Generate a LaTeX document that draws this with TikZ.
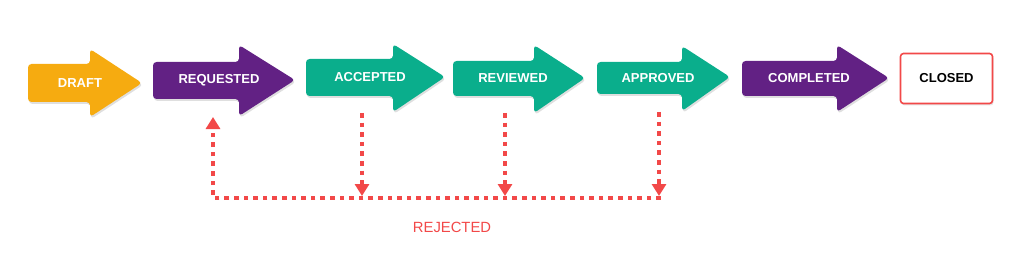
\documentclass[tikz,border=0pt]{standalone}
\usepackage{fontspec}
\setmainfont{Liberation Sans}
\usetikzlibrary{arrows.meta,shadows}
\definecolor{cOrange}{RGB}{246,171,16}
\definecolor{cPurple}{RGB}{98,33,132}
\definecolor{cTeal}{RGB}{10,174,140}
\definecolor{cRed}{RGB}{242,72,72}
\tikzset{
  bigarrow/.style={rounded corners=3.5pt, drop shadow={opacity=0.25, shadow xshift=1pt, shadow yshift=-2pt}},
  arrowlabel/.style={text=white, font=\bfseries\fontsize{13}{15}\selectfont, inner sep=0pt},
  rejline/.style={draw=cRed, line width=4.6pt, dash pattern=on 4.6pt off 5pt},
  rejhead/.style={-{Triangle[width=14pt,length=12pt]}},
}
% #1 left, #2 top, #3 bottom, #4 head base, #5 head top, #6 head bottom, #7 tip x, #8 tip y, #9 colour
\newcommand{\mybigarrow}[9]{%
  \fill[bigarrow, fill=#9] (#1,#2) -- (#4,#2) -- (#4,#5) -- (#7,#8) -- (#4,#6) -- (#4,#3) -- (#1,#3) -- cycle;}
\begin{document}
\begin{tikzpicture}[x=1pt,y=-1pt]
\useasboundingbox (0,0) rectangle (1024,259);
% arrows
\mybigarrow{28}{64}{102}{90}{49}{117}{142}{83}{cOrange}
\node[arrowlabel] (draft) at (80,83) {DRAFT};
\mybigarrow{153}{62}{99}{239}{45}{116}{295}{80}{cPurple}
\node[arrowlabel] (requested) at (219,80) {REQUESTED};
\mybigarrow{306}{59}{96}{393}{44}{112}{445}{77}{cTeal}
\node[arrowlabel] (accepted) at (370,77) {ACCEPTED};
\mybigarrow{453}{61}{96}{534}{45}{113}{585}{78}{cTeal}
\node[arrowlabel] (reviewed) at (513,78) {REVIEWED};
\mybigarrow{597}{62}{94}{682}{46}{111}{730}{77}{cTeal}
\node[arrowlabel] (approved) at (658,78) {APPROVED};
\mybigarrow{742}{61}{96}{837}{45}{112}{889}{78}{cPurple}
\node[arrowlabel] (completed) at (809,78) {COMPLETED};
% closed box
\node[draw=cRed, line width=1.6pt, fill=white, rounded corners=3pt, minimum width=92pt, minimum height=50pt,
      font=\bfseries\fontsize{13}{15}\selectfont, text=black,
      drop shadow={opacity=0.2, shadow xshift=1pt, shadow yshift=-2pt}] (closed) at (946.5,78.5) {CLOSED};
% rejection connectors
\coordinate (reqin) at (213,117);
\coordinate (acc0) at (362,113);
\coordinate (rev0) at (505,113);
\coordinate (app0) at (659,112);
\coordinate (accB) at (362,196);
\coordinate (revB) at (505,196);
\coordinate (appB) at (659,196);
\coordinate (corner) at (213,198);
\coordinate (rightend) at (661,198);
\draw[rejline, rejhead] (rightend) -- (corner) -- (reqin);
\draw[rejline, rejhead] (acc0) -- (accB);
\draw[rejline, rejhead] (rev0) -- (revB);
\draw[rejline, rejhead] (app0) -- (appB);
\node[text=cRed, font=\fontsize{14.8}{17}\selectfont, inner sep=0pt] (rejected) at (452,227) {REJECTED};
\end{tikzpicture}
\end{document}
